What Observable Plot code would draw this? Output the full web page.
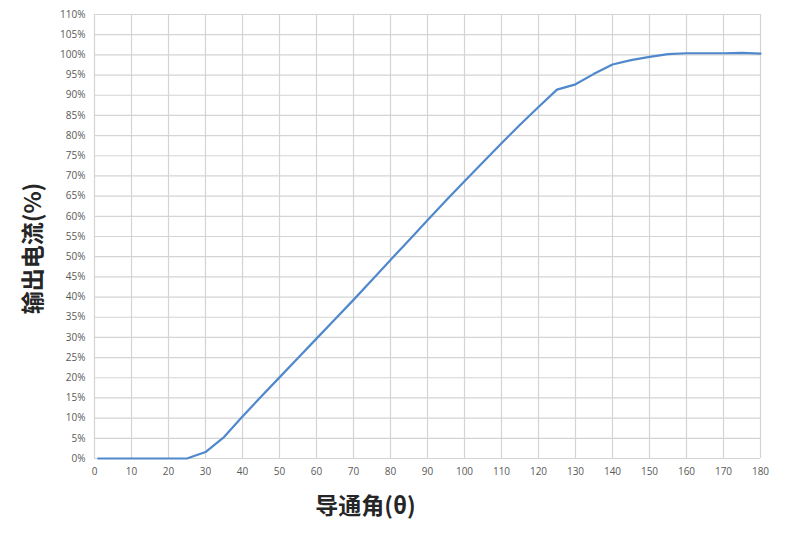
<!DOCTYPE html>
<html><head><meta charset="utf-8">
<script src="https://cdn.jsdelivr.net/npm/d3@7"></script>
<script src="https://cdn.jsdelivr.net/npm/@observablehq/plot@0.6"></script>
<style>
body{margin:0;background:#fff;}
#chart svg{font-family:"Open Sans","Liberation Sans",sans-serif;}
</style>
</head><body><div id="chart"></div>
<script>
const angles = [1, 5, 10, 15, 20, 25, 30, 35, 40, 45, 50, 55, 60, 65, 70, 75, 80, 85, 90, 95, 100, 105, 110, 115, 120, 125, 130, 135, 140, 145, 150, 155, 160, 165, 170, 175, 180];
const currents = [0, 0, 0, 0, 0, 0, 1.6, 5.3, 10.4, 15.3, 20.1, 24.9, 29.7, 34.5, 39.3, 44.2, 49.2, 54.1, 59.0, 63.9, 68.7, 73.4, 78.1, 82.7, 87.1, 91.4, 92.7, 95.3, 97.6, 98.7, 99.5, 100.2, 100.4, 100.4, 100.4, 100.5, 100.3];
const xTicks = d3.range(0, 181, 10);
const yTicks = d3.range(0, 111, 5);
const xLabel = "导通角(θ)";
const yLabel = "输出电流(%)";

const data = angles.map((a, i) => ({angle: a, current: currents[i]}));

const chart = Plot.plot({
  width: 798,
  height: 534,
  marginLeft: 94,
  marginRight: 38,
  marginTop: 14,
  marginBottom: 76,
  x: {domain: [0, 180]},
  y: {domain: [0, 110]},
  style: {fontSize: "10px", color: "#595959"},
  marks: [
    Plot.gridX(xTicks, {stroke: "#d4d4d4", strokeOpacity: 1, strokeWidth: 1.2}),
    Plot.gridY(yTicks, {stroke: "#d4d4d4", strokeOpacity: 1, strokeWidth: 1.2}),
    Plot.axisX(xTicks, {tickSize: 0, tickPadding: 9, label: null, fill: "#595959"}),
    Plot.axisY(yTicks, {tickSize: 0, tickPadding: 9, label: null, tickFormat: d => d + "%", fill: "#595959"}),
    Plot.line(data, {x: "angle", y: "current", stroke: "#5088cc", strokeWidth: 2.2}),
    Plot.text([xLabel], {frameAnchor: "bottom", textAnchor: "middle", dx: -62, dy: 55, fontSize: 23, fontWeight: "bold", fill: "#262626", fontFamily: "Noto Sans CJK SC"}),
    Plot.text([yLabel], {frameAnchor: "left", textAnchor: "middle", rotate: -90, dx: -61, dy: 12, fontSize: 23, fontWeight: "bold", fill: "#262626", fontFamily: "Noto Sans CJK SC"})
  ]
});
document.getElementById("chart").append(chart);
</script>
</body></html>
